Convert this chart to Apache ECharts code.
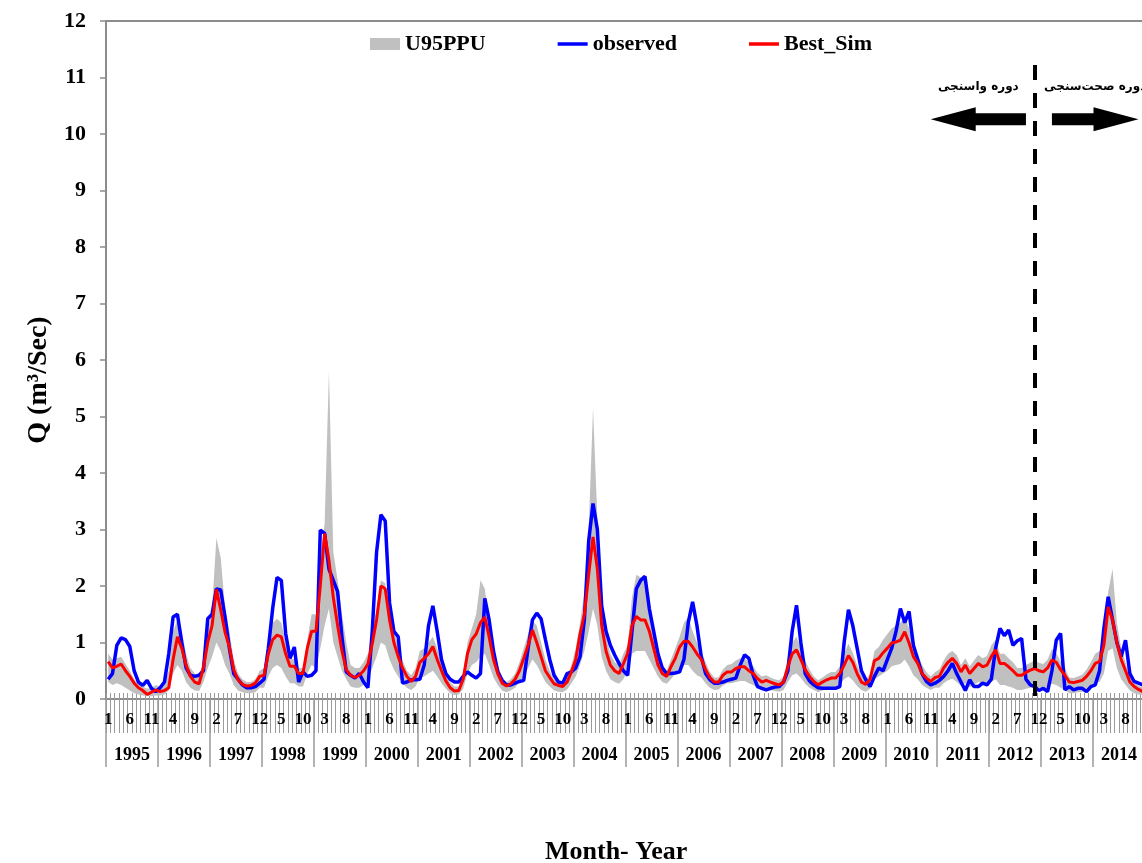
<!DOCTYPE html>
<html><head><meta charset="utf-8">
<script src="https://cdn.jsdelivr.net/npm/echarts@6/dist/echarts.min.js"></script>
<style>html,body{margin:0;padding:0;overflow:hidden;background:#fff;width:1142px;height:863px}#c{width:1145px;height:863px}</style>
</head><body><div id="c"></div><script>
// ---------- data ----------
const years = [1995,1996,1997,1998,1999,2000,2001,2002,2003,2004,2005,2006,2007,2008,2009,2010,2011,2012,2013,2014];
const yTicks = [0,1,2,3,4,5,6,7,8,9,10,11,12];
const observed = [
0.35,0.45,0.95,1.08,1.05,0.93,0.5,0.3,0.24,0.33,0.19,0.13,
0.2,0.3,0.8,1.45,1.5,1.0,0.55,0.42,0.4,0.42,0.5,1.42,
1.5,1.95,1.93,1.45,0.9,0.45,0.35,0.25,0.2,0.2,0.22,0.28,
0.35,0.9,1.6,2.15,2.1,1.16,0.72,0.92,0.3,0.48,0.4,0.42,
0.5,2.99,2.93,2.3,2.1,1.9,1.1,0.48,0.42,0.37,0.45,0.3,
0.2,1.2,2.6,3.26,3.15,1.7,1.2,1.1,0.28,0.3,0.34,0.34,
0.35,0.6,1.3,1.65,1.2,0.7,0.45,0.35,0.3,0.3,0.4,0.48,
0.42,0.37,0.45,1.78,1.4,0.85,0.48,0.33,0.25,0.25,0.28,0.31,
0.33,0.9,1.4,1.52,1.42,1.05,0.7,0.42,0.3,0.28,0.45,0.48,
0.55,0.75,1.4,2.8,3.46,3.0,1.65,1.2,0.95,0.78,0.63,0.5,
0.42,1.2,1.95,2.1,2.17,1.6,1.2,0.8,0.55,0.45,0.45,0.46,
0.48,0.7,1.35,1.72,1.3,0.75,0.45,0.34,0.28,0.28,0.3,0.33,
0.35,0.37,0.6,0.78,0.72,0.42,0.22,0.19,0.16,0.19,0.21,0.22,
0.3,0.5,1.2,1.66,1.0,0.45,0.32,0.25,0.2,0.19,0.19,0.19,
0.19,0.22,1.0,1.58,1.3,0.9,0.5,0.34,0.22,0.4,0.55,0.5,
0.7,0.9,1.2,1.6,1.35,1.55,0.95,0.7,0.45,0.31,0.25,0.28,
0.33,0.4,0.5,0.63,0.45,0.3,0.15,0.34,0.22,0.22,0.28,0.25,
0.35,0.9,1.25,1.12,1.22,0.95,1.03,1.07,0.35,0.25,0.22,0.15,
0.19,0.13,0.5,1.04,1.16,0.16,0.22,0.16,0.19,0.19,0.13,0.22,
0.25,0.5,1.25,1.81,1.4,1.0,0.75,1.04,0.45,0.31,0.28,0.25
];
const bestSim = [
0.66,0.55,0.58,0.62,0.5,0.4,0.28,0.2,0.15,0.08,0.12,0.16,
0.13,0.15,0.2,0.7,1.1,0.9,0.6,0.4,0.3,0.27,0.55,1.0,
1.3,1.94,1.58,1.18,0.92,0.52,0.34,0.26,0.23,0.24,0.28,0.4,
0.42,0.8,1.05,1.13,1.1,0.8,0.58,0.58,0.45,0.45,0.9,1.2,
1.2,2.0,2.93,2.45,1.8,1.3,0.85,0.52,0.42,0.38,0.42,0.5,
0.62,0.98,1.4,2.0,1.95,1.4,1.0,0.75,0.55,0.4,0.31,0.4,
0.65,0.72,0.8,0.93,0.7,0.5,0.32,0.2,0.14,0.15,0.35,0.8,
1.05,1.15,1.35,1.45,1.1,0.7,0.45,0.28,0.23,0.27,0.35,0.5,
0.72,0.95,1.22,1.0,0.75,0.5,0.38,0.27,0.24,0.22,0.3,0.48,
0.7,1.15,1.5,2.2,2.87,2.3,1.3,0.85,0.6,0.5,0.45,0.62,
0.81,1.3,1.46,1.4,1.4,1.2,0.9,0.6,0.45,0.4,0.57,0.72,
0.92,1.02,1.02,0.92,0.8,0.7,0.52,0.38,0.3,0.3,0.42,0.48,
0.48,0.54,0.57,0.57,0.5,0.45,0.36,0.3,0.33,0.3,0.27,0.25,
0.3,0.57,0.8,0.87,0.7,0.52,0.4,0.31,0.25,0.3,0.34,0.37,
0.37,0.45,0.6,0.77,0.65,0.45,0.3,0.26,0.35,0.68,0.72,0.82,
0.9,0.99,1.01,1.04,1.19,0.99,0.75,0.63,0.45,0.37,0.31,0.38,
0.4,0.55,0.65,0.72,0.63,0.48,0.6,0.45,0.54,0.63,0.57,0.6,
0.75,0.87,0.63,0.63,0.57,0.5,0.42,0.42,0.47,0.51,0.54,0.5,
0.48,0.55,0.69,0.65,0.52,0.42,0.3,0.29,0.31,0.33,0.4,0.5,
0.63,0.66,0.95,1.63,1.4,1.0,0.7,0.5,0.3,0.22,0.17,0.13
];
const ppuUpper = [
0.8,0.7,0.72,0.75,0.62,0.5,0.35,0.27,0.22,0.18,0.2,0.25,
0.22,0.3,0.5,1.2,1.4,1.2,0.8,0.55,0.45,0.4,0.7,1.2,
1.6,2.85,2.5,1.6,1.2,0.7,0.45,0.35,0.3,0.3,0.35,0.5,
0.55,1.0,1.35,1.42,1.35,1.0,0.72,0.7,0.55,0.55,1.05,1.5,
1.5,2.5,3.1,5.8,2.6,2.1,1.5,1.0,0.6,0.55,0.55,0.65,
0.8,1.2,1.6,2.1,2.05,1.55,1.2,0.95,0.68,0.5,0.42,0.55,
0.85,0.9,1.0,1.1,0.9,0.65,0.42,0.3,0.22,0.22,0.45,1.0,
1.25,1.5,2.1,1.95,1.35,0.9,0.6,0.38,0.3,0.35,0.45,0.65,
0.9,1.15,1.38,1.3,1.0,0.7,0.5,0.35,0.3,0.3,0.4,0.6,
0.9,1.35,1.9,3.0,5.15,3.2,1.8,1.1,0.8,0.65,0.6,0.8,
0.95,1.8,2.2,2.15,2.2,1.7,1.2,0.85,0.6,0.5,0.7,0.9,
1.1,1.35,1.45,1.2,1.0,0.85,0.65,0.48,0.38,0.38,0.52,0.6,
0.62,0.68,0.72,0.72,0.65,0.58,0.46,0.4,0.42,0.38,0.35,0.33,
0.4,0.72,1.0,1.1,0.9,0.68,0.52,0.4,0.33,0.38,0.44,0.48,
0.48,0.58,0.8,0.98,0.82,0.6,0.42,0.34,0.45,0.85,0.92,1.05,
1.15,1.25,1.3,1.35,1.45,1.25,0.95,0.8,0.6,0.48,0.4,0.48,
0.52,0.68,0.8,0.85,0.78,0.6,0.72,0.58,0.68,0.78,0.72,0.76,
0.95,1.05,0.8,0.8,0.72,0.65,0.55,0.55,0.6,0.64,0.68,0.64,
0.62,0.7,0.88,0.82,0.66,0.55,0.38,0.37,0.4,0.43,0.52,0.65,
0.8,0.85,1.25,1.9,2.3,1.35,0.9,0.65,0.4,0.3,0.24,0.2
];
const ppuLower = [
0.3,0.25,0.28,0.25,0.2,0.15,0.1,0.08,0.06,0.05,0.05,0.06,
0.06,0.08,0.15,0.45,0.6,0.5,0.3,0.2,0.15,0.14,0.3,0.55,
0.75,1.0,0.85,0.6,0.45,0.25,0.15,0.12,0.1,0.1,0.12,0.2,
0.2,0.4,0.55,0.6,0.55,0.4,0.28,0.28,0.22,0.22,0.45,0.6,
0.55,0.9,1.3,1.6,1.0,0.75,0.5,0.35,0.22,0.2,0.2,0.25,
0.35,0.55,0.75,1.0,0.95,0.7,0.52,0.4,0.28,0.2,0.16,0.22,
0.38,0.4,0.45,0.5,0.4,0.28,0.18,0.1,0.07,0.08,0.18,0.45,
0.6,0.65,0.75,0.8,0.6,0.38,0.25,0.15,0.12,0.15,0.2,0.3,
0.4,0.55,0.7,0.6,0.45,0.3,0.22,0.15,0.13,0.12,0.17,0.28,
0.4,0.6,0.85,1.2,1.6,1.3,0.75,0.5,0.35,0.3,0.27,0.35,
0.5,0.8,0.85,0.85,0.85,0.7,0.55,0.4,0.3,0.27,0.35,0.45,
0.5,0.6,0.6,0.5,0.42,0.38,0.28,0.2,0.16,0.17,0.24,0.28,
0.28,0.3,0.32,0.32,0.28,0.25,0.2,0.16,0.17,0.16,0.14,0.13,
0.16,0.3,0.42,0.45,0.37,0.27,0.2,0.16,0.12,0.15,0.17,0.19,
0.2,0.25,0.35,0.4,0.33,0.23,0.16,0.13,0.18,0.35,0.4,0.45,
0.5,0.58,0.6,0.62,0.7,0.58,0.42,0.35,0.25,0.2,0.16,0.2,
0.2,0.28,0.33,0.36,0.3,0.23,0.28,0.21,0.25,0.3,0.27,0.28,
0.3,0.35,0.25,0.25,0.22,0.2,0.16,0.16,0.18,0.2,0.21,0.2,
0.18,0.21,0.27,0.25,0.2,0.16,0.1,0.1,0.12,0.13,0.16,0.2,
0.3,0.3,0.45,0.85,0.9,0.55,0.35,0.25,0.15,0.1,0.08,0.07
];
// calibration / validation split (month index) and annotation arrows [fromIdx, toIdx, y]
const splitIndex = 214;
const splitTop = 11.22;
const arrows = [[212, 190, 10.26], [218, 238, 10.26]];
const arrowLabels = ['دوره واسنجی', 'دوره صحت‌سنجی'];

// ---------- build ----------
const monthCats = [];
years.forEach(y => { for (let m = 1; m <= 12; m++) monthCats.push(y + '-' + m); });
const bandDiff = ppuUpper.map((u, i) => +(u - ppuLower[i]).toFixed(4));

const SERIF = "'Liberation Serif','Times New Roman',serif";
const AX = '#8c8c8c';
const LINE_ICON = 'path://M0,0h0.01v0.01h-0.01z M0,4.2h30v3.6h-30z M29.99,11.99h0.01v0.01h-0.01z';
const chart = echarts.init(document.getElementById('c'));
chart.setOption({
  animation: false,
  backgroundColor: '#fff',
  title: {
    text: 'Month- Year', left: 545, top: 839, padding: 0,
    textStyle: { fontFamily: SERIF, fontWeight: 'bold', fontSize: 26, color: '#000' }
  },
  legend: {
    left: 370, top: 33, padding: 0, itemGap: 72, itemWidth: 30, itemHeight: 12,
    selectedMode: false,
    textStyle: { fontFamily: SERIF, fontWeight: 'bold', fontSize: 22, color: '#000' },
    data: [
      { name: 'U95PPU', icon: 'rect', itemStyle: { color: '#c0c0c0' } },
      { name: 'observed', icon: LINE_ICON },
      { name: 'Best_Sim', icon: LINE_ICON }
    ]
  },
  grid: { left: 106, top: 21, right: 0, bottom: 164, containLabel: false },
  xAxis: [
    {
      type: 'category', data: monthCats, position: 'bottom', boundaryGap: true,
      axisLine: { show: true, lineStyle: { color: AX, width: 2 } },
      axisTick: { show: true, interval: 0, length: 34, lineStyle: { color: '#9a9a9a', width: 1 } },
      axisLabel: { interval: 4, margin: 12, formatter: v => v.split('-')[1],
        fontFamily: SERIF, fontWeight: 'bold', fontSize: 17, color: '#000' },
      splitLine: { show: false }
    },
    {
      type: 'category', data: monthCats, position: 'bottom', boundaryGap: true,
      axisLine: { show: false },
      axisTick: { show: true, inside: true, interval: 0, length: 6, lineStyle: { color: '#9a9a9a', width: 1 } },
      axisLabel: { show: false }, splitLine: { show: false }
    },
    {
      type: 'category', data: years.map(String), position: 'bottom', boundaryGap: true,
      axisLine: { show: false },
      axisTick: { show: true, interval: 0, length: 68, lineStyle: { color: '#9a9a9a', width: 1.5 } },
      axisLabel: { interval: 0, margin: 47, fontFamily: SERIF, fontWeight: 'bold', fontSize: 18, color: '#000' },
      splitLine: { show: false }
    },
    {
      type: 'category', data: monthCats, position: 'top',
      axisLine: { show: true, lineStyle: { color: AX, width: 2 } },
      axisTick: { show: false }, axisLabel: { show: false }, splitLine: { show: false }
    }
  ],
  yAxis: {
    type: 'value', min: yTicks[0], max: yTicks[yTicks.length - 1], interval: 1,
    axisLine: { show: true, lineStyle: { color: AX, width: 2 } },
    axisTick: { show: true, length: 6, lineStyle: { color: AX, width: 1.5 } },
    axisLabel: { margin: 20, fontFamily: SERIF, fontWeight: 'bold', fontSize: 22, color: '#000' },
    splitLine: { show: false },
    name: 'Q (m³/Sec)', nameLocation: 'middle', nameGap: 53,
    nameTextStyle: { fontFamily: SERIF, fontWeight: 'bold', fontSize: 28, color: '#000', padding: [0, 40, 0, 0] }
  },
  series: [
    { name: 'lower', type: 'line', data: ppuLower, stack: 'band', symbol: 'none', silent: true,
      lineStyle: { width: 0, opacity: 0 }, z: 1 },
    { name: 'U95PPU', type: 'line', data: bandDiff, stack: 'band', symbol: 'none', silent: true,
      lineStyle: { width: 0, opacity: 0 }, itemStyle: { color: '#c0c0c0' },
      areaStyle: { color: '#c0c0c0', opacity: 1 }, z: 1 },
    { name: 'observed', type: 'line', data: observed, symbol: 'none',
      lineStyle: { color: '#0000ff', width: 3.5 }, itemStyle: { color: '#0000ff' }, z: 3,
      markLine: {
        silent: true, symbol: 'none', label: { show: false },
        lineStyle: { color: '#000', width: 4, type: [15, 13] },
        data: [[{ coord: [splitIndex, splitTop] }, { coord: [splitIndex, 0] }]]
      }
    },
    { name: 'Best_Sim', type: 'line', data: bestSim, symbol: 'none',
      lineStyle: { color: '#ff0000', width: 3 }, itemStyle: { color: '#ff0000' }, z: 4 },
    { name: 'arrows', type: 'custom', data: arrows, encode: { x: [0, 1], y: 2 }, clip: false, silent: true, z: 5,
      renderItem: function (params, api) {
        const p0 = api.coord([api.value(0), api.value(2)]);
        const p1 = api.coord([api.value(1), api.value(2)]);
        const dir = p1[0] > p0[0] ? 1 : -1;
        const headLen = 45, bodyH = 6, headH = 12;
        const y = p0[1], xb = p1[0] - dir * headLen;
        const pts = [[p0[0], y - bodyH], [xb, y - bodyH], [xb, y - headH], [p1[0], y],
                     [xb, y + headH], [xb, y + bodyH], [p0[0], y + bodyH]];
        return { type: 'group', children: [
          { type: 'polygon', shape: { points: pts }, style: { fill: '#000' } },
          { type: 'text', style: { text: arrowLabels[params.dataIndex], x: (p0[0] + p1[0]) / 2, y: y - 32,
              align: 'center', verticalAlign: 'middle', fill: '#000',
              font: 'bold 12px "DejaVu Sans"' } }
        ] };
      }
    }
  ]
});
</script></body></html>
